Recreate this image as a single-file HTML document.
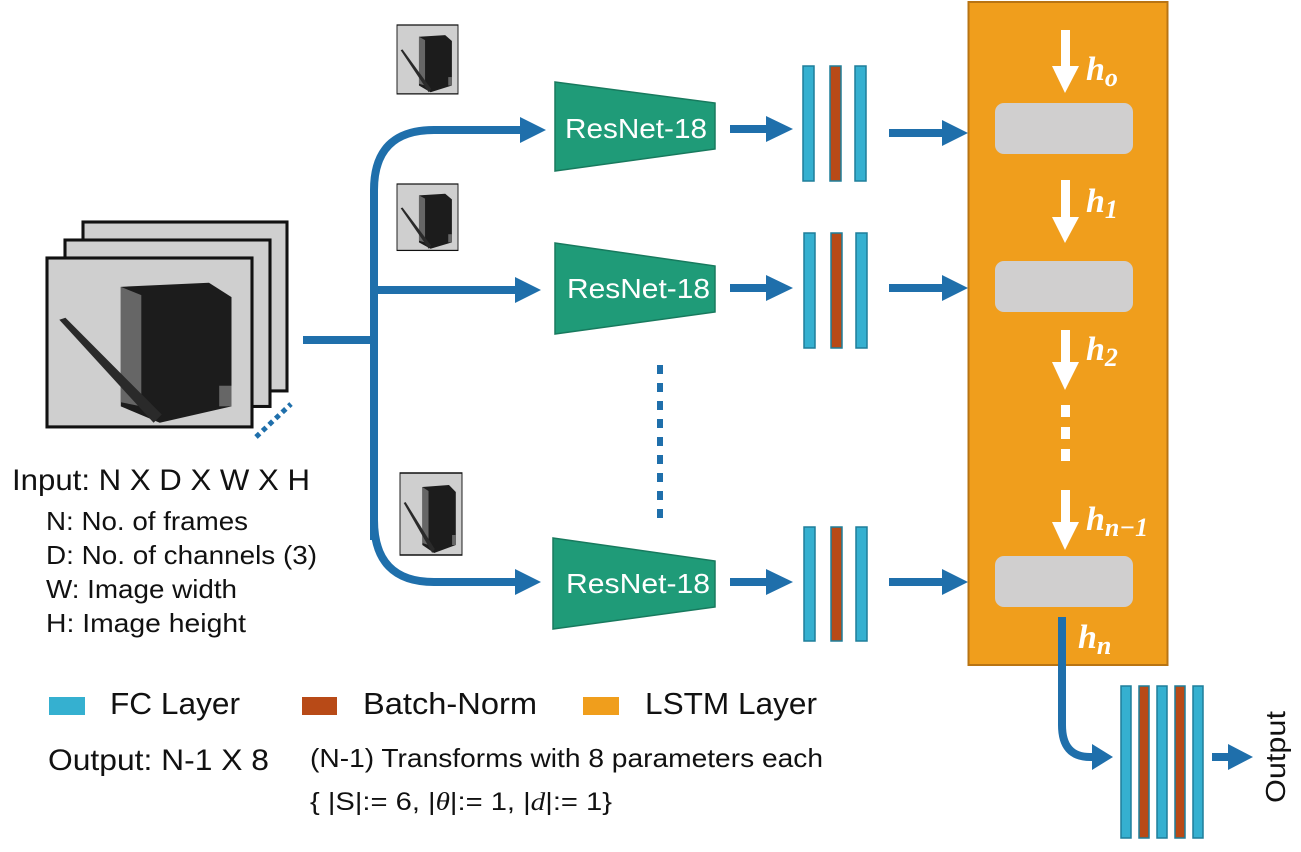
<!DOCTYPE html>
<html><head><meta charset="utf-8"><style>
html,body{margin:0;padding:0;background:#fff;}
svg{display:block;font-family:"Liberation Sans",sans-serif;}
</style></head><body>
<svg width="1301" height="852" viewBox="0 0 1301 852" xmlns="http://www.w3.org/2000/svg">
<defs>
<g id="dw">
  <rect x="0" y="0" width="100" height="82" fill="#cfcfcf" stroke="#111" stroke-width="1.5"/>
  <polygon points="36,14 79,12 90,19 90,72 55,80 36,72" fill="#1c1c1c"/>
  <polygon points="36,14 46,18 46,72 36,70" fill="#666"/>
  <polygon points="6,30 9,29 56,76 52,80" fill="#2a2a2a"/>
  <rect x="84" y="62" width="6" height="10" fill="#666"/>
</g>
</defs>

<g transform="translate(83,222) scale(2.04,2.06)"><use href="#dw"/></g>
<g transform="translate(65,240) scale(2.05,2.03)"><use href="#dw"/></g>
<g transform="translate(47,258) scale(2.05,2.06)"><use href="#dw"/></g>
<line x1="256" y1="437" x2="291" y2="404" stroke="#1f6fab" stroke-width="5" stroke-dasharray="5,4"/>

<g transform="translate(397,25) scale(0.61,0.84)"><use href="#dw"/></g>
<g transform="translate(397,184) scale(0.61,0.81)"><use href="#dw"/></g>
<g transform="translate(400,473) scale(0.62,1.0)"><use href="#dw"/></g>

<g stroke="#1f6fab" stroke-width="8" fill="none">
  <line x1="303" y1="340" x2="374" y2="340"/>
  <path d="M374,540 L374,190 Q374,130 434,130 L525,130"/>
  <path d="M374,290 L520,290"/>
  <path d="M374,520 Q374,582 434,582 L520,582"/>
  <line x1="730" y1="129" x2="770" y2="129"/>
  <line x1="730" y1="288" x2="770" y2="288"/>
  <line x1="730" y1="582" x2="770" y2="582"/>
  <line x1="889" y1="133" x2="945" y2="133"/>
  <line x1="889" y1="288" x2="945" y2="288"/>
  <line x1="889" y1="582" x2="945" y2="582"/>
  <line x1="1212" y1="757" x2="1232" y2="757"/>
</g>
<g fill="#1f6fab">
  <polygon points="520,117 546,130 520,143"/>
  <polygon points="515,277 541,290 515,303"/>
  <polygon points="515,569 541,582 515,595"/>
  <polygon points="766,116 793,129 766,142"/>
  <polygon points="766,275 793,288 766,301"/>
  <polygon points="766,569 793,582 766,595"/>
  <polygon points="942,120 968,133 942,146"/>
  <polygon points="942,275 968,288 942,301"/>
  <polygon points="942,569 968,582 942,595"/>
  <polygon points="1092,744 1113,757 1092,770"/>
  <polygon points="1228,744 1253,757 1228,770"/>
</g>
<line x1="660" y1="365" x2="660" y2="525" stroke="#1f6fab" stroke-width="6" stroke-dasharray="9,9"/>

<g fill="#1f9b78" stroke="#187a5e" stroke-width="1.5">
  <polygon points="555,82 715,103 715,149 555,171"/>
  <polygon points="555,243 715,266 715,312 555,334"/>
  <polygon points="553,538 715,561 715,607 553,629"/>
</g>
<g fill="#fff" font-size="28">
  <text x="565" y="138" textLength="142" lengthAdjust="spacingAndGlyphs">ResNet-18</text>
  <text x="567" y="298" textLength="143" lengthAdjust="spacingAndGlyphs">ResNet-18</text>
  <text x="566" y="593" textLength="144" lengthAdjust="spacingAndGlyphs">ResNet-18</text>
</g>

<g stroke="#1e7e9a" stroke-width="1.5">
  <rect x="803" y="66" width="11" height="115" fill="#35b0d0"/>
  <rect x="830" y="66" width="11" height="115" fill="#b84a17"/>
  <rect x="855" y="66" width="11" height="115" fill="#35b0d0"/>
  <rect x="804" y="233" width="11" height="115" fill="#35b0d0"/>
  <rect x="831" y="233" width="11" height="115" fill="#b84a17"/>
  <rect x="856" y="233" width="11" height="115" fill="#35b0d0"/>
  <rect x="804" y="527" width="11" height="114" fill="#35b0d0"/>
  <rect x="831" y="527" width="11" height="114" fill="#b84a17"/>
  <rect x="856" y="527" width="11" height="114" fill="#35b0d0"/>
  <rect x="1121" y="686" width="10" height="152" fill="#35b0d0"/>
  <rect x="1139" y="686" width="10" height="152" fill="#b84a17"/>
  <rect x="1157" y="686" width="10" height="152" fill="#35b0d0"/>
  <rect x="1175" y="686" width="10" height="152" fill="#b84a17"/>
  <rect x="1193" y="686" width="10" height="152" fill="#35b0d0"/>
</g>

<rect x="968.5" y="2" width="199" height="663" fill="#f09e1c" stroke="#b87413" stroke-width="2"/>
<g fill="#d0cfcf">
  <rect x="995" y="103" width="138" height="51" rx="9"/>
  <rect x="995" y="261" width="138" height="51" rx="9"/>
  <rect x="995" y="556" width="138" height="51" rx="9"/>
</g>
<g fill="#fff">
  <rect x="1061" y="30" width="9" height="38"/><polygon points="1052,66 1079,66 1065,93"/>
  <rect x="1061" y="180" width="9" height="38"/><polygon points="1052,217 1079,217 1065,243"/>
  <rect x="1061" y="330" width="9" height="36"/><polygon points="1052,362 1079,362 1065,390"/>
  <rect x="1061" y="405" width="9" height="12"/><rect x="1061" y="427" width="9" height="12"/><rect x="1061" y="449" width="9" height="12"/>
  <rect x="1061" y="490" width="9" height="34"/><polygon points="1052,522 1079,522 1065,550"/>
</g>
<path d="M1062,617 L1062,725 Q1062,757 1090,757 L1095,757" stroke="#1f6fab" stroke-width="8" fill="none"/>
<g fill="#fff" font-family="'Liberation Serif',serif" font-style="italic" font-weight="bold" font-size="34">
  <text x="1086" y="80">h<tspan font-size="26" dy="6">o</tspan></text>
  <text x="1086" y="212">h<tspan font-size="26" dy="6">1</tspan></text>
  <text x="1086" y="360">h<tspan font-size="26" dy="6">2</tspan></text>
  <text x="1086" y="530">h<tspan font-size="26" dy="6">n−1</tspan></text>
  <text x="1078" y="648">h<tspan font-size="26" dy="6">n</tspan></text>
</g>

<text transform="translate(1285,757) rotate(-90)" text-anchor="middle" font-size="28" fill="#111" textLength="92" lengthAdjust="spacingAndGlyphs">Output</text>

<g fill="#111">
  <text x="12" y="490" font-size="30" textLength="298" lengthAdjust="spacingAndGlyphs">Input: N X D X W X H</text>
  <text x="46" y="530" font-size="26" textLength="202" lengthAdjust="spacingAndGlyphs">N: No. of frames</text>
  <text x="46" y="564" font-size="26" textLength="271" lengthAdjust="spacingAndGlyphs">D: No. of channels (3)</text>
  <text x="46" y="598" font-size="26" textLength="191" lengthAdjust="spacingAndGlyphs">W: Image width</text>
  <text x="46" y="632" font-size="26" textLength="200" lengthAdjust="spacingAndGlyphs">H: Image height</text>
  <text x="110" y="714" font-size="31" textLength="130" lengthAdjust="spacingAndGlyphs">FC Layer</text>
  <text x="363" y="714" font-size="31" textLength="174" lengthAdjust="spacingAndGlyphs">Batch-Norm</text>
  <text x="645" y="714" font-size="31" textLength="172" lengthAdjust="spacingAndGlyphs">LSTM Layer</text>
  <text x="48" y="770" font-size="30" textLength="221" lengthAdjust="spacingAndGlyphs">Output: N-1 X 8</text>
  <text x="310" y="767" font-size="26" textLength="513" lengthAdjust="spacingAndGlyphs">(N-1) Transforms with 8 parameters each</text>
  <text x="310" y="810" font-size="25" textLength="302" lengthAdjust="spacingAndGlyphs">{ |S|:= 6, |<tspan font-family="'Liberation Serif',serif" font-style="italic">θ</tspan>|:= 1, |<tspan font-family="'Liberation Serif',serif" font-style="italic">d</tspan>|:= 1}</text>
</g>
<rect x="49" y="697" width="36" height="18" fill="#35b0d0"/>
<rect x="302" y="697" width="35" height="18" fill="#b84a17"/>
<rect x="583" y="697" width="36" height="18" fill="#f09e1c"/>
</svg>
</body></html>
